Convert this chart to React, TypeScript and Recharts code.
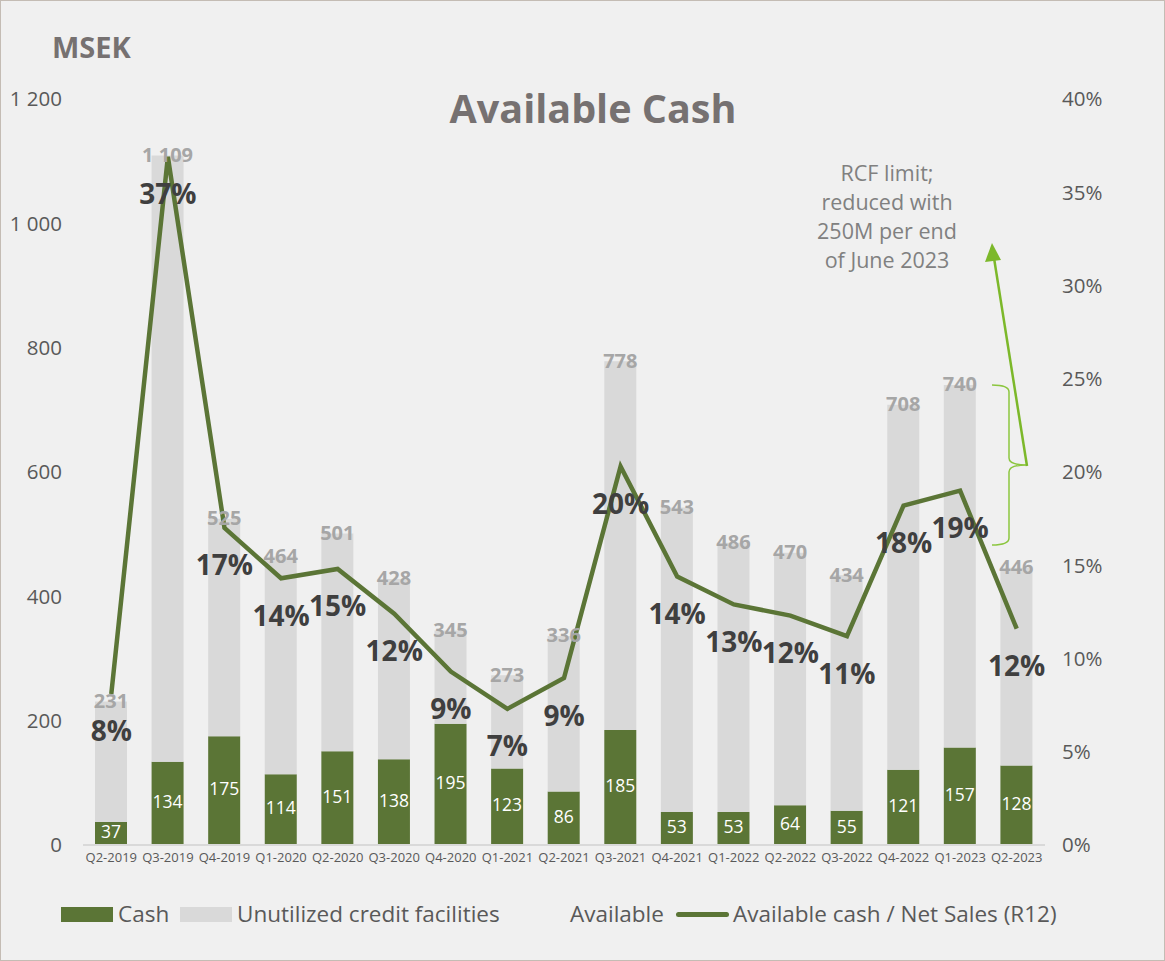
import { ComposedChart, Bar, Line, XAxis, YAxis, LabelList } from 'recharts';

const quarters = ['Q2-2019', 'Q3-2019', 'Q4-2019', 'Q1-2020', 'Q2-2020', 'Q3-2020', 'Q4-2020', 'Q1-2021', 'Q2-2021',
  'Q3-2021', 'Q4-2021', 'Q1-2022', 'Q2-2022', 'Q3-2022', 'Q4-2022', 'Q1-2023', 'Q2-2023'];
const cash = [37, 134, 175, 114, 151, 138, 195, 123, 86, 185, 53, 53, 64, 55, 121, 157, 128];
const available = [231, 1109, 525, 464, 501, 428, 345, 273, 336, 778, 543, 486, 470, 434, 708, 740, 446];
const cashToSales = [8.1, 36.9, 17.0, 14.3, 14.8, 12.4, 9.3, 7.3, 8.95, 20.3, 14.4, 12.9, 12.3, 11.2, 18.2, 19.0, 11.6];
const leftTicks = [0, 200, 400, 600, 800, 1000, 1200];
const rightTicks = [0, 5, 10, 15, 20, 25, 30, 35, 40];

const data = quarters.map((q, i) => ({
  q,
  cash: cash[i],
  unused: available[i] - cash[i],
  total: available[i],
  ratio: cashToSales[i],
}));

const GREEN = '#5b7536';
const LIGHT = '#d9d9d9';
const TEXT = '#595959';
const FONT = '"Open Sans", sans-serif';

const fmtThousands = (v: number) => String(v).replace(/\B(?=(\d{3})+(?!\d))/g, ' ');

const TotalLabel = (props: any) => {
  const { x, y, width, value } = props;
  return (
    <text x={x + width / 2} y={y + 1} textAnchor="middle" dominantBaseline="middle"
      fill="#a6a6a6" fontSize={20} fontWeight={700} fontFamily={FONT}>
      {fmtThousands(value)}
    </text>
  );
};

const CashLabel = (props: any) => {
  const { x, y, width, height, value } = props;
  return (
    <text x={x + width / 2} y={y + height / 2} textAnchor="middle" dominantBaseline="middle"
      fill="#ffffff" fontSize={17.5} fontFamily={FONT}>
      {value}
    </text>
  );
};

const RatioLabel = (props: any) => {
  const { x, y, value } = props;
  return (
    <text x={x} y={y + 40} textAnchor="middle" dominantBaseline="middle"
      fill="#3f3f3f" fontSize={28} fontWeight={700} fontFamily={FONT}>
      {Math.round(value) + '%'}
    </text>
  );
};

// annotation lines next to the last two bars
const note = ['RCF limit;', 'reduced with', '250M per end', 'of June 2023'];

export default function App() {
  return (
    <div style={{ position: 'absolute', left: 0, top: 0, width: 1165, height: 961, background: '#f0f0f0',
      border: '1px solid #c4bcb4', boxSizing: 'border-box', fontFamily: FONT, overflow: 'hidden' }}>
      <div style={{ position: 'absolute', left: -1, top: -1 }}>
        <ComposedChart width={1165} height={961} data={data} barSize={32}
          margin={{ top: 99, right: 0, bottom: 86, left: 0 }}>
          <XAxis dataKey="q" interval={0} tickLine={false} axisLine={{ stroke: LIGHT, strokeWidth: 2 }}
            height={30} tick={{ fill: TEXT, fontSize: 13, fontFamily: FONT }} />
          <YAxis yAxisId="l" domain={[0, 1200]} ticks={leftTicks} width={83} axisLine={false} tickLine={false}
            tickMargin={15} tickFormatter={fmtThousands} tick={{ fill: TEXT, fontSize: 20.5, fontFamily: FONT }} />
          <YAxis yAxisId="r" orientation="right" domain={[0, 40]} ticks={rightTicks} width={120} axisLine={false}
            tickLine={false} tickMargin={11} tickFormatter={(v: number) => v + '%'}
            tick={{ fill: TEXT, fontSize: 20.5, fontFamily: FONT, textAnchor: 'start' }} />
          <Bar yAxisId="l" dataKey="cash" name="Cash" stackId="a" fill={GREEN} isAnimationActive={false}>
            <LabelList dataKey="cash" content={CashLabel} />
          </Bar>
          <Bar yAxisId="l" dataKey="unused" name="Unutilized credit facilities" stackId="a" fill={LIGHT}
            isAnimationActive={false}>
            <LabelList dataKey="total" content={TotalLabel} />
          </Bar>
          <Line yAxisId="r" dataKey="ratio" name="Available cash / Net Sales (R12)" stroke={GREEN} strokeWidth={4.5}
            dot={false} activeDot={false} isAnimationActive={false}>
            <LabelList dataKey="ratio" content={RatioLabel} />
          </Line>
        </ComposedChart>
      </div>

      <svg width={1165} height={961} style={{ position: 'absolute', left: -1, top: -1, pointerEvents: 'none' }}>
        <text x={52} y={50} dominantBaseline="middle" fill="#767171" fontSize={29} fontWeight={700}
          fontFamily={FONT}>MSEK</text>
        <text x={593} y={112} textAnchor="middle" dominantBaseline="middle" fill="#767171" fontSize={39.5}
          fontWeight={700} fontFamily={FONT}>Available Cash</text>
        <g fill="#808080" fontSize={21.5} fontFamily={FONT} textAnchor="middle">
          {note.map((t, i) => (
            <text key={t} x={887} y={175 + i * 29} dominantBaseline="middle">{t}</text>
          ))}
        </g>
        <path d="M992 385 Q1009 385 1009 392 L1009 458 Q1009 465 1027 465 Q1009 465 1009 472 L1009 538 Q1009 545 992 545"
          fill="none" stroke="#8cc63f" strokeWidth={1.5} />
        <line x1={1027} y1={466} x2={994} y2={258} stroke="#7cb82a" strokeWidth={2.5} />
        <polygon points="992,243 985,262 1001,260" fill="#7cb82a" />
      </svg>

      <div style={{ position: 'absolute', left: 0, top: 899, width: 1165, height: 28, color: TEXT, fontSize: 22.5 }}>
        <div style={{ position: 'absolute', left: 60, top: 7, width: 52, height: 15, background: GREEN }} />
        <div style={{ position: 'absolute', left: 117, top: 0, lineHeight: '28px' }}>Cash</div>
        <div style={{ position: 'absolute', left: 179, top: 7, width: 52, height: 15, background: LIGHT }} />
        <div style={{ position: 'absolute', left: 236, top: 0, lineHeight: '28px' }}>Unutilized credit facilities</div>
        <div style={{ position: 'absolute', left: 569, top: 0, lineHeight: '28px' }}>Available</div>
        <div style={{ position: 'absolute', left: 675, top: 12, width: 53, height: 5, borderRadius: 3, background: GREEN }} />
        <div style={{ position: 'absolute', left: 732, top: 0, lineHeight: '28px' }}>Available cash / Net Sales (R12)</div>
      </div>
    </div>
  );
}
